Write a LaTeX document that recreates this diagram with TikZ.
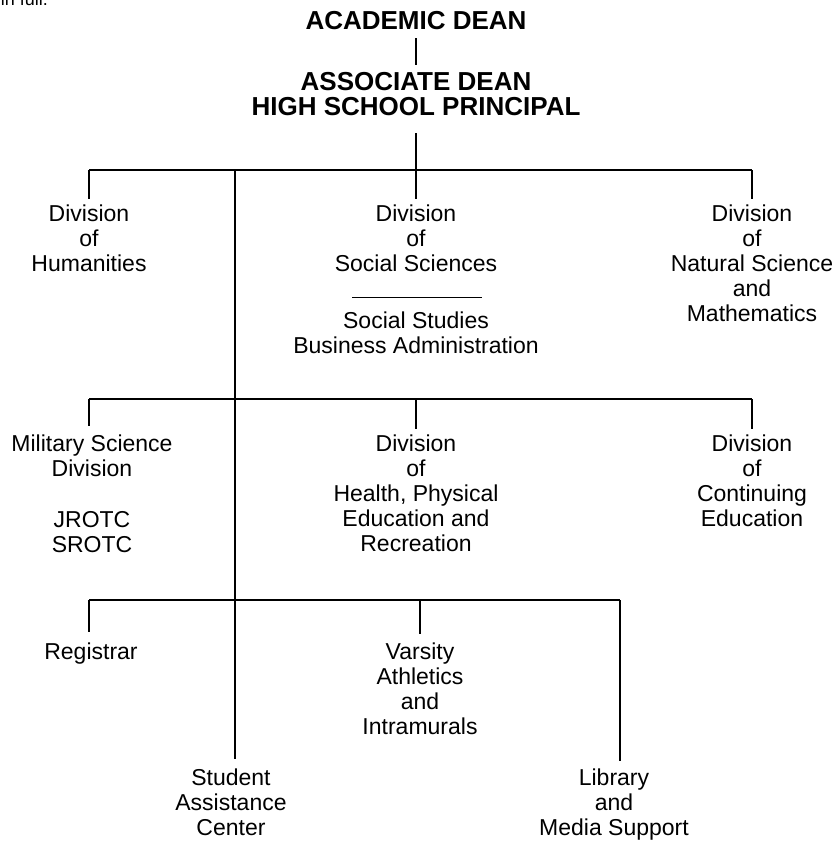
\documentclass[tikz,border=0pt]{standalone}
\usepackage{fontspec}
\setmainfont{Liberation Sans}
\begin{document}
\begin{tikzpicture}[x=1pt,y=-1pt,
  line width=1.7pt,
  head/.style={font=\fontsize{26}{26}\selectfont\bfseries, inner sep=0pt},
  unit/.style={font=\fontsize{23}{25}\selectfont, align=center, inner sep=0pt, anchor=north},
  drop/.style={shorten >=5pt}]
\useasboundingbox (0,0) rectangle (833,844);
% clipped text at top-left
\node[font=\fontsize{18}{18}\selectfont, inner sep=0pt, anchor=base west] (infull) at (0,5) {in full.};
% header
\node[head] (acad) at (416,21) {ACADEMIC DEAN};
\node[head] (assoc) at (416,82) {ASSOCIATE DEAN};
\node[head] (hsp) at (416,107) {HIGH SCHOOL PRINCIPAL};
\draw ([yshift=-7pt]acad.south) -- ([yshift=7pt]assoc.north);
% level 1 units
\node[unit] (hum) at (89,204) {Division\\of\\Humanities};
\node[unit] (soc) at (416,204) {Division\\of\\Social Sciences};
\node[unit] (socsub) at (416,311) {Social Studies\\Business Administration};
\node[unit] (nat) at (752,204) {Division\\of\\Natural Science\\and\\Mathematics};
% level 2 units
\node[unit] (mil) at (92,434) {Military Science\\Division};
\node[unit] (rotc) at (92,511) {JROTC\\SROTC};
\node[unit] (hpe) at (416,434) {Division\\of\\Health, Physical\\Education and\\Recreation};
\node[unit] (cont) at (752,434) {Division\\of\\Continuing\\Education};
% level 3 units
\node[unit] (reg) at (91,642) {Registrar};
\node[unit] (var) at (420,642) {Varsity\\Athletics\\and\\Intramurals};
\node[unit] (sac) at (231,768) {Student\\Assistance\\Center};
\node[unit] (lib) at (614,768) {Library\\and\\Media Support};
% bars
\coordinate (b1l) at (89,170);
\coordinate (b1r) at (752,170);
\coordinate (b2l) at (89,399);
\coordinate (b2r) at (752,399);
\coordinate (b3l) at (89,600);
\coordinate (b3r) at (620,600);
\coordinate (spinetop) at (235,170);
\coordinate (spineend) at (235,759);
\draw ([yshift=-16pt]hsp.south) -- (416,170);
\draw (b1l) -- (b1r);
\draw (b2l) -- (b2r);
\draw (b3l) -- (b3r);
\draw (spinetop) -- (spineend);
% drops level 1
\draw[drop] (b1l) -- (hum.north);
\draw[drop] (soc.north |- b1l) -- (soc.north);
\draw[drop] (b1r) -- (nat.north);
% rule under social sciences
\draw[line width=1pt] (352,297) coordinate (r1) -- (482,297) coordinate (r2);
% drops level 2
\draw[drop] (b2l) -- (89,431);
\draw[drop] (hpe.north |- b2l) -- (hpe.north);
\draw[drop] (b2r) -- (cont.north);
% drops level 3
\draw (b3l) -- (89,632);
\draw (var.north |- b3l) -- (420,634);
\draw (b3r) -- (620,761);
\end{tikzpicture}
\end{document}
